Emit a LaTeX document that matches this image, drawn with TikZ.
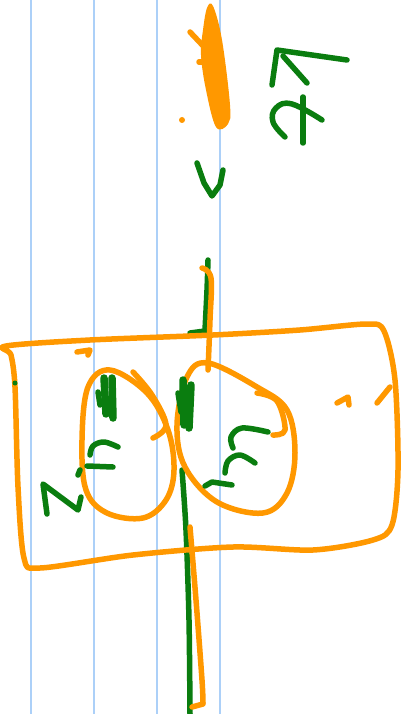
\documentclass[tikz,border=0pt]{standalone}
\usetikzlibrary{calc}
\definecolor{sOrange}{RGB}{255,152,0}
\definecolor{sGreen} {RGB}{10,125,15}
\definecolor{sRule}  {RGB}{172,208,248}

\begin{document}
\begin{tikzpicture}[x=1pt, y=-1pt]

% ---------------------------------------------------------------- styles
\tikzset{
  rule/.style  = {draw=sRule, line width=1.8pt},
  pen/.style   = {line width=5.5pt, line cap=round, line join=round},
  opn/.style   = {pen, draw=sOrange},
  gpn/.style   = {pen, draw=sGreen},
  gblot/.style = {gpn, line width=7.5pt},
}

\useasboundingbox (0,0) rectangle (414,714);
\fill[white] (0,0) rectangle (414,714);

% ================================================================ ruled paper
\foreach \xr in {31,94,157,220}
  \draw[rule] (\xr,0) -- (\xr,714);

% ================================================================ top marks
% orange scribble
\fill[sOrange] plot[smooth cycle, tension=0.6] coordinates
  {(207,8) (213,6) (222,40) (230,105) (228,124) (216,127) (206,90)
   (201,55) (203,30)};
\draw[opn] (190,32) -- (207,50);
\draw[opn] (199,62) -- (209,62);
\fill[sOrange] (182,120) circle (3pt);
% green strokes on the right
\draw[gpn] (347,60) -- (277,50) -- (272,85);
\draw[gpn] (283,56) -- (307,83);
\draw[gpn] (303,97) -- (303,143);
\draw[gpn] plot[smooth, tension=0.7] coordinates
  {(285,137) (273,122) (276,108) (292,104) (322,120)};
\draw[gpn] (197,163) -- (204,183) -- (212,196) -- (220,185) -- (223,170);

% ================================================================ stem
\draw[gpn] plot[smooth, tension=0.5] coordinates
  {(208,260) (207,290) (205,330)};
\draw[gpn] (205,331) -- (190,333);
\draw[gpn] plot[smooth, tension=0.5] coordinates
  {(182,470) (186,530) (189,620) (190,714)};
\draw[opn] plot[smooth, tension=0.6] coordinates
  {(202,268) (211,278) (210,320) (208,370)};
\draw[opn] plot[smooth, tension=0.5] coordinates
  {(190,527) (196,600) (202,680) (203,703)};
\draw[opn] (203,704) -- (192,707);

% ================================================================ frame
\draw[opn] plot[smooth cycle, tension=0.5] coordinates
  {(6,346) (90,340) (213,335) (300,330) (367,324) (384,331) (395,380)
   (398,470) (392,525) (373,540) (313,550) (233,547) (133,555)
   (40,568) (24,558) (18,487) (15,387) (11,355)};
\draw[opn] (77,352) -- (90,350) -- (88,355);
\draw[opn] (337,403) -- (348,397) -- (349,405);
\draw[opn] (377,403) -- (390,387);

% ================================================================ left loop
\draw[opn] plot[smooth cycle, tension=0.6] coordinates
  {(110,370) (147,393) (168,430) (174,470) (166,500) (143,518)
   (107,513) (86,490) (82,440) (88,387)};
\draw[opn] plot[smooth, tension=0.6] coordinates
  {(133,372) (152,395) (166,425) (153,438)};
\draw[gblot] (104,378) -- (106,414);
\draw[gblot] (112,378) -- (113,418);
\draw[gpn] (98,392) -- (100,405);
\draw[gpn] plot[smooth, tension=0.6] coordinates
  {(118,447) (104,442) (93,446) (90,455)};
\draw[gpn] (87,466) -- (113,467);
\draw[gpn] (47,514) -- (43,484) -- (78,510) -- (81,497);
\draw[gpn] (78,475) -- (80,470);
\fill[sGreen] (15,383) circle (2.5pt);

% ================================================================ right loop
\draw[opn] plot[smooth cycle, tension=0.6] coordinates
  {(208,363) (257,387) (287,410) (295,453) (287,493) (263,513)
   (217,502) (185,467) (177,425) (187,377)};
\draw[opn] plot[smooth, tension=0.6] coordinates
  {(257,393) (277,401) (285,430) (273,435)};
\draw[gblot] (183,380) -- (184,425);
\draw[gblot] (191,385) -- (189,428);
\draw[gpn] (178,393) -- (181,412);
\draw[gpn] plot[smooth, tension=0.6] coordinates
  {(268,432) (242,428) (231,437) (233,448)};
\draw[gpn] plot[smooth, tension=0.6] coordinates
  {(255,463) (240,455) (228,461) (225,473)};
\draw[gpn] (205,486) -- (212,482) -- (232,485);

\end{tikzpicture}
\end{document}
